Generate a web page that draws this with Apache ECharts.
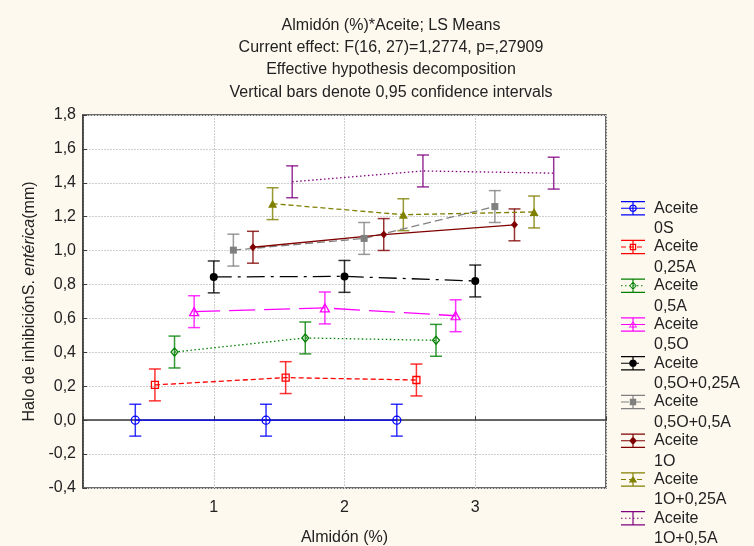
<!DOCTYPE html>
<html>
<head>
<meta charset="utf-8">
<script src="https://cdn.jsdelivr.net/npm/echarts@6/dist/echarts.min.js"></script>
<style>
  html, body { margin: 0; padding: 0; background: #fdf9ef; }
  #chart { width: 754px; height: 546px; }
</style>
</head>
<body>
<div id="chart"></div>
<script>
// ---- data ---------------------------------------------------------------
const titleLines = [
  'Almidón (%)*Aceite; LS Means',
  'Current effect: F(16, 27)=1,2774, p=,27909',
  'Effective hypothesis decomposition',
  'Vertical bars denote 0,95 confidence intervals'
];
const almidonLevels = [1, 2, 3];
const aceiteLevels = ['0S', '0,25A', '0,5A', '0,5O', '0,5O+0,25A', '0,5O+0,5A', '1O', '1O+0,25A', '1O+0,5A'];

// LS means of the inhibition halo (mm) for each Aceite level, by Almidón level
const mean0S        = [0.000, 0.000, 0.000];
const mean025A      = [0.208, 0.251, 0.237];
const mean05A       = [0.402, 0.485, 0.471];
const mean05O       = [0.640, 0.662, 0.616];
const mean05O025A   = [0.845, 0.848, 0.821];
const mean05O05A    = [1.003, 1.072, 1.260];
const mean1O        = [1.020, 1.095, 1.152];
const mean1O025A    = [1.277, 1.212, 1.228];
const mean1O05A     = [1.406, 1.470, 1.457];
// half width of the 0.95 confidence interval
const ciHalf = 0.094;

const yTicks = [-0.4, -0.2, 0.0, 0.2, 0.4, 0.6, 0.8, 1.0, 1.2, 1.4, 1.6, 1.8];
const xTicks = [1, 2, 3];

const meansByAceite = [mean0S, mean025A, mean05A, mean05O, mean05O025A, mean05O05A, mean1O, mean1O025A, mean1O05A];

// ---- styles -------------------------------------------------------------
const looks = [
  { color: '#0000ff', symbol: 'circle',   size: 8,     open: true,  dash: null },
  { color: '#ff0000', symbol: 'rect',     size: 7,     open: true,  dash: [5, 3] },
  { color: '#008000', symbol: 'diamond',  size: [7, 8], open: true, dash: [1.5, 2.5] },
  { color: '#ff00ff', symbol: 'triangle', size: [9, 8], open: true, dash: [26, 9] },
  { color: '#000000', symbol: 'circle',   size: 8,     open: false, dash: [18, 6, 3, 6] },
  { color: '#808080', symbol: 'rect',     size: 7,     open: false, dash: [8, 4] },
  { color: '#800000', symbol: 'diamond',  size: [7, 8], open: false, dash: null },
  { color: '#808000', symbol: 'triangle', size: [9, 8], open: false, dash: [5, 3] },
  { color: '#800080', symbol: 'none',     size: 0,     open: false, dash: [1.5, 2.5] }
];

const FONT = '"Liberation Sans", Arial, Helvetica, sans-serif';
const TEXT = '#222222';
const FS = 16;

// ---- legend icons: error-bar glyph with the series line and marker -------
function bar(x0, y0, x1, y1) {
  return 'M' + x0 + ',' + y0 + 'H' + x1 + 'V' + y1 + 'H' + x0 + 'Z';
}
function poly(pts) {
  return 'M' + pts.map(p => p[0].toFixed(2) + ',' + p[1].toFixed(2)).join('L') + 'Z';
}
function shapePts(kind, cx, cy, r) {
  if (kind === 'circle') {
    const pts = [];
    for (let k = 0; k < 16; k++) {
      const a = k * Math.PI * 2 / 16;
      pts.push([cx + r * Math.cos(a), cy + r * Math.sin(a)]);
    }
    return pts;
  }
  if (kind === 'rect') return [[cx - r, cy - r], [cx + r, cy - r], [cx + r, cy + r], [cx - r, cy + r]];
  if (kind === 'diamond') return [[cx, cy - r * 1.15], [cx + r, cy], [cx, cy + r * 1.15], [cx - r, cy]];
  return [[cx, cy - r], [cx + r * 1.1, cy + r * 0.8], [cx - r * 1.1, cy + r * 0.8]];
}
function legendIcon(look) {
  const W = 24, top = 3.6, mid = 10.25, bottom = 16.9, cx = 12;
  let d = 'M0,0M28,41';                       // fixes the icon box to 28 x 41
  d += bar(0, top - 0.6, W, top + 0.6);
  d += bar(0, bottom - 0.6, W, bottom + 0.6);
  d += bar(cx - 0.6, top, cx + 0.6, bottom);
  // middle line following the series dash pattern
  const pat = look.dash || [W, 0];
  let x = 0, k = 0;
  while (x < W) {
    const len = pat[k % pat.length];
    if (k % 2 === 0) d += bar(x, mid - 0.6, Math.min(W, x + len), mid + 0.6);
    x += len; k++;
  }
  if (look.symbol !== 'none') {
    const r = look.symbol === 'rect' ? 3.2 : 3.8;
    d += poly(shapePts(look.symbol, cx, mid, r));
    if (look.open) d += poly(shapePts(look.symbol, cx, mid, r - 1.2).reverse());
  }
  return 'path://' + d;
}

// ---- series ---------------------------------------------------------------
const series = [];
aceiteLevels.forEach((name, i) => {
  const look = looks[i];
  const means = meansByAceite[i];
  const dodge = (i - (aceiteLevels.length - 1) / 2) * 0.15;
  const pts = almidonLevels.map((a, j) => [a + dodge, means[j]]);

  // confidence-interval bars
  series.push({
    name: name,
    type: 'custom',
    data: pts.map(p => [p[0], p[1] - ciHalf, p[1] + ciHalf]),
    encode: { x: 0, y: [1, 2] },
    silent: true,
    z: 2,
    renderItem: (params, api) => {
      const x = api.value(0);
      const lo = api.coord([x, api.value(1)]);
      const hi = api.coord([x, api.value(2)]);
      const hw = 6;
      const st = { stroke: look.color, lineWidth: 1.5, opacity: 0.8 };
      return {
        type: 'group',
        children: [
          { type: 'line', shape: { x1: hi[0], y1: hi[1], x2: lo[0], y2: lo[1] }, style: st },
          { type: 'line', shape: { x1: hi[0] - hw, y1: hi[1], x2: hi[0] + hw, y2: hi[1] }, style: st },
          { type: 'line', shape: { x1: lo[0] - hw, y1: lo[1], x2: lo[0] + hw, y2: lo[1] }, style: st }
        ]
      };
    }
  });

  // means joined across Almidón levels
  series.push({
    name: name,
    type: 'line',
    data: pts,
    z: 3,
    symbol: look.symbol,
    symbolSize: look.size,
    showSymbol: look.symbol !== 'none',
    itemStyle: {
      color: look.open ? 'rgba(255,255,255,0)' : look.color,
      borderColor: look.color,
      borderWidth: look.open ? 1.3 : 0
    },
    lineStyle: { color: look.color, width: 1.3, type: look.dash || 'solid' },
    emphasis: { disabled: true },
    silent: true
  });
});

const chart = echarts.init(document.getElementById('chart'), null, { renderer: 'canvas' });
const fmt = v => v.toFixed(1).replace('.', ',');

chart.setOption({
  animation: false,
  backgroundColor: '#fdf9ef',
  textStyle: { fontFamily: FONT },
  graphic: [{
    type: 'text',
    x: 391,
    y: 14,
    style: {
      text: titleLines.join('\n'),
      textAlign: 'center',
      textVerticalAlign: 'top',
      font: FS + 'px ' + FONT,
      lineHeight: 22.4,
      fill: TEXT
    }
  }],
  grid: {
    left: 83, right: 148, top: 115, bottom: 58,
    outerBoundsMode: 'none',
    containLabel: false,
    show: true,
    backgroundColor: '#ffffff',
    borderColor: '#3a3a3a',
    borderWidth: 1.5
  },
  legend: {
    orient: 'vertical',
    left: 621,
    top: 198,
    height: 420,
    padding: 0,
    itemWidth: 28,
    itemHeight: 41,
    itemGap: -2.25,
    selectedMode: false,
    formatter: name => 'Aceite\n' + name,
    textStyle: { fontFamily: FONT, fontSize: FS, lineHeight: 20.5, color: TEXT },
    itemStyle: { borderWidth: 0 },
    data: aceiteLevels.map((name, i) => ({
      name: name,
      icon: legendIcon(looks[i]),
      itemStyle: { color: looks[i].color, borderWidth: 0 }
    }))
  },
  xAxis: {
    type: 'value',
    min: 0,
    max: 4,
    interval: 1,
    name: 'Almidón (%)',
    nameLocation: 'middle',
    nameGap: 42,
    nameTextStyle: { fontFamily: FONT, fontSize: FS, color: TEXT },
    axisLine: { show: true, lineStyle: { color: '#3a3a3a', width: 1.5 } },
    axisTick: { show: true, inside: true, length: 4, lineStyle: { color: '#3a3a3a' } },
    axisLabel: {
      margin: 12,
      fontFamily: FONT, fontSize: FS, color: TEXT,
      formatter: v => (xTicks.indexOf(v) >= 0 ? String(v) : '')
    },
    splitLine: { show: true, lineStyle: { color: '#cfcfcf', width: 1, type: [2, 1] } }
  },
  yAxis: {
    type: 'value',
    min: yTicks[0],
    max: yTicks[yTicks.length - 1],
    interval: 0.2,
    name: '{n|Halo de inhibiciónS. }{i|entérica}{n|(mm)}',
    nameLocation: 'middle',
    nameRotate: 90,
    nameGap: 43,
    nameTextStyle: {
      rich: {
        n: { fontFamily: FONT, fontSize: FS, color: TEXT },
        i: { fontFamily: FONT, fontSize: FS, color: TEXT, fontStyle: 'italic' }
      }
    },
    axisLine: { show: true, lineStyle: { color: '#3a3a3a', width: 1.5 } },
    axisTick: { show: true, inside: true, length: 4, lineStyle: { color: '#3a3a3a' } },
    axisLabel: { margin: 7, fontFamily: FONT, fontSize: FS, color: TEXT, formatter: v => fmt(v) },
    splitLine: { show: true, lineStyle: { color: '#cfcfcf', width: 1, type: [2, 1] } }
  },
  series: series
});
</script>
</body>
</html>
